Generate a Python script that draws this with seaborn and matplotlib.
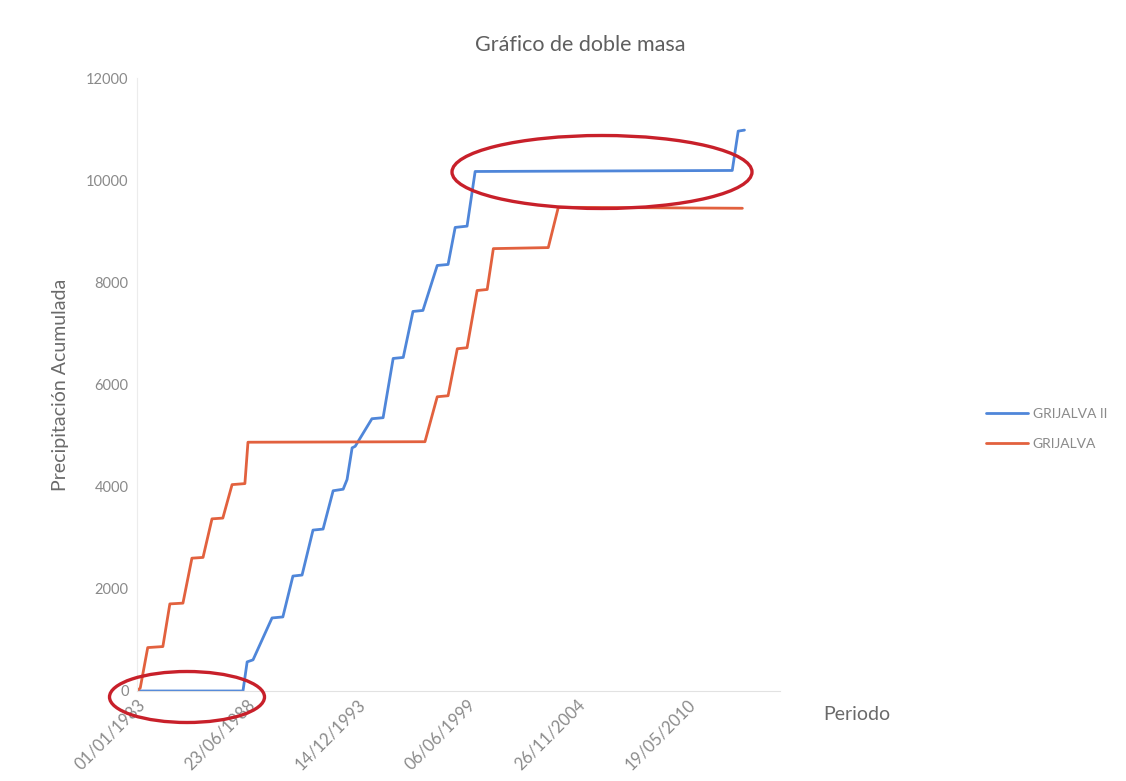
import pandas as pd
import matplotlib.pyplot as plt
import matplotlib.dates as mdates
from matplotlib.patches import Ellipse
import seaborn as sns

# --- Basic plot styling ---
sns.set_style('white')
plt.rcParams['font.family'] = ['Lato', 'DejaVu Sans']

# --- Data (cumulative precipitation at breakpoints) ---
grijalva_ii_dates = [
    '1983-01-01', '1988-04-10', '1988-06-25', '1988-10-10', '1989-09-20',
    '1990-04-05', '1990-10-05', '1991-03-20', '1991-10-05', '1992-04-05',
    '1992-10-05', '1993-04-05', '1993-06-15', '1993-09-15', '1993-11-10',
    '1994-09-10', '1995-04-01', '1995-10-01', '1996-04-01', '1996-09-25',
    '1997-03-25', '1997-12-10', '1998-06-25', '1998-11-01', '1999-06-05',
    '1999-10-30', '2012-08-15', '2012-12-01', '2013-03-25',
]
grijalva_ii_values = [
    0, 0, 570, 610, 1430,
    1450, 2250, 2270, 3150, 3170,
    3920, 3950, 4140, 4760, 4790,
    5330, 5350, 6510, 6530, 7430,
    7450, 8330, 8350, 9075, 9100,
    10170, 10190, 10960, 10980,
]

grijalva_dates = [
    '1983-01-01', '1983-03-01', '1983-07-15', '1984-04-15', '1984-08-20',
    '1985-04-15', '1985-09-25', '1986-04-15', '1986-09-25', '1987-04-10',
    '1987-09-25', '1988-05-15', '1988-07-10', '1997-05-01', '1997-12-10',
    '1998-06-25', '1998-12-10', '1999-06-05', '1999-12-05', '2000-06-05',
    '2000-09-25', '2003-06-20', '2003-12-20', '2013-02-15',
]
grijalva_values = [
    0, 60, 850, 870, 1705,
    1720, 2600, 2615, 3370, 3385,
    4040, 4060, 4870, 4880, 5760,
    5780, 6700, 6720, 7840, 7860,
    8660, 8680, 9470, 9450,
]

tick_dates = ['1983-01-01', '1988-06-23', '1993-12-14',
              '1999-06-06', '2004-11-26', '2010-05-19']
y_ticks = [0, 2000, 4000, 6000, 8000, 10000, 12000]

series_names = ['GRIJALVA II', 'GRIJALVA']
colors = ['#4F86D9', '#E2613E']

# --- Build a long table for seaborn ---
data = pd.concat([
    pd.DataFrame({'Fecha': pd.to_datetime(grijalva_ii_dates),
                  'Precipitacion': grijalva_ii_values,
                  'Serie': series_names[0]}),
    pd.DataFrame({'Fecha': pd.to_datetime(grijalva_dates),
                  'Precipitacion': grijalva_values,
                  'Serie': series_names[1]}),
], ignore_index=True)

# --- Figure ---
fig = plt.figure(figsize=(11.26, 7.81), dpi=100)
ax = fig.add_axes([137 / 1126, 1 - 691 / 781, 643 / 1126, 613 / 781])

sns.lineplot(data=data, x='Fecha', y='Precipitacion', hue='Serie',
             hue_order=series_names, palette=colors, linewidth=2.0,
             estimator=None, sort=False, ax=ax)

ax.set_ylim(0, 12000)
ax.set_xlim(pd.Timestamp('1983-01-01'), pd.Timestamp('2014-12-31'))
ax.set_yticks(y_ticks)
ax.set_yticklabels([str(v) for v in y_ticks])
ax.set_xticks(pd.to_datetime(tick_dates))
ax.xaxis.set_major_formatter(mdates.DateFormatter('%d/%m/%Y'))

label_grey = '#8a8a8a'
ax.tick_params(axis='y', labelsize=10.5, labelcolor=label_grey, length=0, pad=6)
ax.tick_params(axis='x', labelsize=12, labelcolor=label_grey, length=0, pad=4)
for lbl in ax.get_xticklabels():
    lbl.set_rotation(45)
    lbl.set_ha('right')
    lbl.set_rotation_mode('anchor')

for side in ['top', 'right']:
    ax.spines[side].set_visible(False)
ax.spines['left'].set_color('#ececec')
ax.spines['bottom'].set_color('#e2e2e2')

ax.set_ylabel('Precipitación Acumulada', fontsize=14, color='#6a6a6a', labelpad=12)
ax.set_xlabel('Periodo', fontsize=14, color='#6a6a6a')
ax.xaxis.set_label_coords(1.12, -0.025)

fig.suptitle('Gráfico de doble masa', x=580 / 1126, y=1 - 45 / 781,
             fontsize=15.5, color='#5f5f5f', va='center')

ax.legend(loc='center left', bbox_to_anchor=(986 / 1126, 1 - 429 / 781),
          bbox_transform=fig.transFigure, frameon=False, fontsize=10,
          labelcolor=label_grey, handlelength=3.0, handletextpad=0.35,
          labelspacing=1.3, borderpad=0, borderaxespad=0, title=None)

# hand-drawn red ellipses
for cx, cy, w, h in [(187, 697, 155, 51), (602, 172, 300, 73)]:
    fig.add_artist(Ellipse((cx / 1126, 1 - cy / 781), w / 1126, h / 781,
                           transform=fig.transFigure, fill=False,
                           edgecolor='#C8202A', linewidth=2.4))

fig.savefig('out.png', dpi=100)
